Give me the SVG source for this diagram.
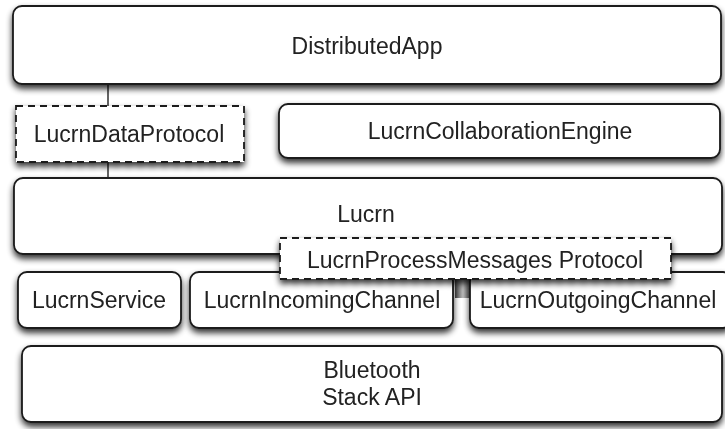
<svg xmlns="http://www.w3.org/2000/svg" width="725" height="429" viewBox="0 0 725 429">
<defs>
<filter id="sh" x="-5%" y="-20%" width="110%" height="150%">
<feGaussianBlur in="SourceAlpha" stdDeviation="3"/>
<feOffset dx="0" dy="4" result="b"/>
<feComponentTransfer><feFuncA type="linear" slope="0.8"/></feComponentTransfer>
<feMerge><feMergeNode/><feMergeNode in="SourceGraphic"/></feMerge>
</filter>
<linearGradient id="bar" x1="0" y1="0" x2="1" y2="0">
<stop offset="0" stop-color="#444"/><stop offset="0.5" stop-color="#bbb"/><stop offset="1" stop-color="#555"/>
</linearGradient>
</defs>
<style>
.box{fill:#fff;stroke:#1a1a1a;stroke-width:1.8}
.dash{fill:#fff;stroke:#1a1a1a;stroke-width:1.8;stroke-dasharray:7 5}
.t{font-family:"Liberation Sans",Arial,sans-serif;font-size:23px;fill:#222;text-anchor:middle}
.ln{stroke:#222;stroke-width:1.4;fill:none}
</style>
<rect width="725" height="429" fill="#fff"/>
<g id="connectors">
<line class="ln" x1="108" y1="84" x2="108" y2="106"/>
<line class="ln" x1="108" y1="162" x2="108" y2="178"/>
<rect x="455" y="279" width="16" height="19" fill="url(#bar)"/>
</g>
<g id="DistributedApp" filter="url(#sh)">
<rect class="box" x="13" y="6" width="708" height="78" rx="9"/>
<text class="t" x="367" y="54">DistributedApp</text>
</g>
<g id="LucrnDataProtocol" filter="url(#sh)">
<rect class="dash" x="16" y="106" width="228" height="56"/>
<text class="t" x="129" y="142">LucrnDataProtocol</text>
</g>
<g id="LucrnCollaborationEngine" filter="url(#sh)">
<rect class="box" x="279" y="104" width="441" height="54" rx="9"/>
<text class="t" x="500" y="139">LucrnCollaborationEngine</text>
</g>
<g id="Lucrn" filter="url(#sh)">
<rect class="box" x="14" y="178" width="708" height="76" rx="9"/>
<text class="t" x="366" y="222">Lucrn</text>
</g>
<g id="LucrnService" filter="url(#sh)">
<rect class="box" x="18" y="272" width="163" height="56" rx="9"/>
<text class="t" x="99" y="308">LucrnService</text>
</g>
<g id="LucrnIncomingChannel" filter="url(#sh)">
<rect class="box" x="190" y="272" width="263" height="56" rx="9"/>
<text class="t" x="322" y="308">LucrnIncomingChannel</text>
</g>
<g id="LucrnOutgoingChannel" filter="url(#sh)">
<rect class="box" x="470" y="272" width="262" height="56" rx="9"/>
<text class="t" x="598" y="308">LucrnOutgoingChannel</text>
</g>
<g id="LucrnProcessMessagesProtocol" filter="url(#sh)">
<rect class="dash" x="280" y="238" width="391" height="41"/>
<text class="t" x="475" y="268">LucrnProcessMessages Protocol</text>
</g>
<g id="BluetoothStackAPI" filter="url(#sh)">
<rect class="box" x="22" y="346" width="700" height="76" rx="9"/>
<text class="t" x="372" y="378">Bluetooth</text>
<text class="t" x="372" y="405">Stack API</text>
</g>
</svg>
